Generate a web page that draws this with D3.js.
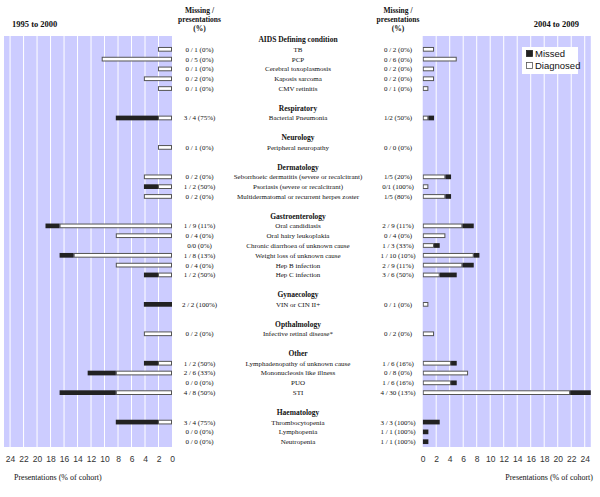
<!DOCTYPE html>
<html><head><meta charset="utf-8">
<script src="https://cdn.jsdelivr.net/npm/d3@7/dist/d3.min.js"></script>
<style>body{margin:0;background:#fff}svg{display:block}</style>
</head><body><svg id="c" width="600" height="497"></svg>
<script>
const headings = ["AIDS Defining condition","Respiratory","Neurology","Dermatology","Gastroenterology","Gynaecology","Opthalmology","Other","Haematology"];
const groupSizes = [5,1,1,3,6,1,1,4,3];
const categories = ["TB","PCP","Cerebral toxoplasmosis","Kaposis sarcoma","CMV retinitis",
 "Bacterial Pneumonia","Peripheral neuropathy",
 "Seborrhoeic dermatitis (severe or recalcitrant)","Psoriasis (severe or recalcitrant)","Multidermatomal or recurrent herpes zoster",
 "Oral candidiasis","Oral hairy leukoplakia","Chronic diarrhoea of unknown cause","Weight loss of unknown cause","Hep B infection","Hep C infection",
 "VIN or CIN II+","Infective retinal disease*",
 "Lymphadenopathy of unknown cause","Mononucleosis like illness","PUO","STI",
 "Thrombocytopenia","Lymphopenia","Neutropenia"];
// 1995 to 2000 (% of cohort)
const leftMissed = [0,0,0,0,0, 6.25, 0, 0,2.08,0, 2.08,0,0,2.08,0,2.08, 4.17, 0, 2.08,4.17,0,8.33, 6.25,0,0];
const leftDiagnosed = [2.08,10.42,2.08,4.17,2.08, 2.08, 2.08, 4.17,2.08,4.17, 16.67,8.33,0,14.58,8.33,2.08, 0, 4.17, 2.08,8.33,0,8.33, 2.08,0,0];
const leftText = ["0 / 1 (0%)","0 / 5 (0%)","0 / 1 (0%)","0 / 2 (0%)","0 / 1 (0%)","3 / 4 (75%)","0 / 1 (0%)",
 "0 / 2 (0%)","1 / 2 (50%)","0 / 2 (0%)","1 / 9 (11%)","0 / 4 (0%)","0/0 (0%)","1 / 8 (13%)","0 / 4 (0%)","1 / 2 (50%)",
 "2 / 2 (100%)","0 / 2 (0%)","1 / 2 (50%)","2 / 6 (33%)","0 / 0 (0%)","4 / 8 (50%)","3 / 4 (75%)","0 / 0 (0%)","0 / 0 (0%)"];
// 2004 to 2009 (% of cohort)
const rightMissed = [0,0,0,0,0, 0.84, 0, 0.84,0,0.84, 1.68,0,0.84,0.84,1.68,2.52, 0, 0, 0.84,0,0.84,3.36, 2.52,0.84,0.84];
const rightDiagnosed = [1.68,5.04,1.68,1.68,0.84, 0.84, 0, 3.36,0.84,3.36, 5.88,3.36,1.68,7.56,5.88,2.52, 0.84, 1.68, 4.2,6.72,4.2,21.84, 0,0,0];
const rightText = ["0 / 2 (0%)","0 / 6 (0%)","0 / 2 (0%)","0 / 2 (0%)","0 / 1 (0%)","1/2 (50%)","0 / 0 (0%)",
 "1/5 (20%)","0/1 (100%)","1/5 (80%)","2 / 9 (11%)","0 / 4 (0%)","1 / 3 (33%)","1 / 10 (10%)","2 / 9 (11%)","3 / 6 (50%)",
 "0 / 1 (0%)","0 / 2 (0%)","1 / 6 (16%)","0 / 8 (0%)","1 / 6 (16%)","4 / 30 (13%)","3 / 3 (100%)","1 / 1 (100%)","1 / 1 (100%)"];
const tickValues = [0,2,4,6,8,10,12,14,16,18,20,22,24];
const legendLabels = ["Missed","Diagnosed"];

// build slot list
const slots = [];
let k = 0;
headings.forEach((h,gi)=>{
  slots.push({type:"h",label:h,key:"h"+gi});
  for(let j=0;j<groupSizes[gi];j++){ slots.push({type:"i",idx:k,label:categories[k],key:"i"+k}); k++; }
  if(gi<headings.length-1) slots.push({type:"b",key:"b"+gi});
});

const svg = d3.select("#c");
const plotTop=36, plotBottom=447;
const y = d3.scaleBand().domain(slots.map(s=>s.key)).range([34.6,446.6]).paddingInner(0.52).paddingOuter(0.26);
const xL = d3.scaleLinear().domain([0,24.9]).range([172,4]);
const xR = d3.scaleLinear().domain([0,24.9]).range([422.7,590.8]);
const BG="#ccccff", DARK="#222", EDGE="#555";
const serif="'Liberation Serif','Times New Roman',serif";
const narrow="'Liberation Sans Narrow','Arial Narrow','Liberation Sans',sans-serif";

function panel(x, missed, diag, clipId){
  const r = x.range();
  const x0=Math.min(r[0],r[1]), x1=Math.max(r[0],r[1]);
  svg.append("clipPath").attr("id",clipId).append("rect").attr("x",x0).attr("y",plotTop).attr("width",x1-x0).attr("height",plotBottom-plotTop);
  svg.append("rect").attr("x",x0).attr("y",plotTop).attr("width",x1-x0).attr("height",plotBottom-plotTop).attr("fill",BG);
  svg.append("g").selectAll("line").data(tickValues.filter(t=>t>0)).join("line")
    .attr("x1",d=>x(d)).attr("x2",d=>x(d)).attr("y1",plotTop).attr("y2",plotBottom)
    .attr("stroke","#fff").attr("stroke-width",1);
  const g = svg.append("g").attr("clip-path",`url(#${clipId})`);
  const items = slots.filter(s=>s.type==="i");
  const bh = y.bandwidth();
  g.selectAll("rect.d").data(items.filter(s=>diag[s.idx]>0)).join("rect")
    .attr("x",s=>Math.min(x(0),x(diag[s.idx]))+0.5)
    .attr("width",s=>Math.abs(x(diag[s.idx])-x(0))-1)
    .attr("y",s=>y(s.key)+0.5).attr("height",bh-1)
    .attr("fill","#fff").attr("stroke",EDGE).attr("stroke-width",1);
  g.selectAll("rect.m").data(items.filter(s=>missed[s.idx]>0)).join("rect")
    .attr("x",s=>Math.min(x(diag[s.idx]),x(diag[s.idx]+missed[s.idx])))
    .attr("width",s=>Math.abs(x(diag[s.idx]+missed[s.idx])-x(diag[s.idx])))
    .attr("y",s=>y(s.key)).attr("height",bh)
    .attr("fill",DARK);
  const ax = svg.append("g").attr("transform",`translate(0,${plotBottom})`)
    .call(d3.axisBottom(x).tickValues(tickValues).tickSize(0).tickPadding(9));
  ax.select(".domain").remove();
  ax.selectAll("text").attr("font-family",narrow).attr("font-size",8.5).attr("fill","#333");
}
panel(xL,leftMissed,leftDiagnosed,"clipL");
panel(xR,rightMissed,rightDiagnosed,"clipR");

const cx=298, lx=199.5, rx=398;
svg.append("g").selectAll("text").data(slots.filter(s=>s.type!=="b")).join("text")
  .attr("x",cx).attr("y",s=>y(s.key)+y.bandwidth()/2).attr("dy","0.35em")
  .attr("text-anchor","middle").attr("font-family",serif)
  .attr("font-size",s=>s.type==="h"?7.5:7).attr("font-weight",s=>s.type==="h"?"bold":"normal")
  .attr("fill","#111").text(s=>s.label);
const itemSlots = slots.filter(s=>s.type==="i");
svg.append("g").selectAll("text").data(itemSlots).join("text")
  .attr("x",lx).attr("y",s=>y(s.key)+y.bandwidth()/2).attr("dy","0.35em")
  .attr("text-anchor","middle").attr("font-family",serif).attr("font-size",7).attr("fill","#111")
  .text(s=>leftText[s.idx]);
svg.append("g").selectAll("text").data(itemSlots).join("text")
  .attr("x",rx).attr("y",s=>y(s.key)+y.bandwidth()/2).attr("dy","0.35em")
  .attr("text-anchor","middle").attr("font-family",serif).attr("font-size",7).attr("fill","#111")
  .text(s=>rightText[s.idx]);

[lx,rx].forEach(hx=>{
  ["Missing /","presentations","(%)"].forEach((t,i)=>{
    svg.append("text").attr("x",hx).attr("y",10+i*9.2).attr("dy","0.35em").attr("text-anchor","middle")
      .attr("font-family",serif).attr("font-size",7.5).attr("font-weight","bold").attr("fill","#111").text(t);
  });
});
svg.append("text").attr("x",12).attr("y",24).attr("dy","0.35em").attr("font-family",serif)
  .attr("font-size",8.5).attr("font-weight","bold").attr("fill","#111").text("1995  to  2000");
svg.append("text").attr("x",579).attr("y",24).attr("dy","0.35em").attr("text-anchor","end").attr("font-family",serif)
  .attr("font-size",8.5).attr("font-weight","bold").attr("fill","#111").text("2004  to  2009");

svg.append("text").attr("x",14).attr("y",477).attr("dy","0.35em").attr("font-family",serif)
  .attr("font-size",8).attr("fill","#111").text("Presentations (% of cohort)");
svg.append("text").attr("x",593).attr("y",477).attr("dy","0.35em").attr("text-anchor","end").attr("font-family",serif)
  .attr("font-size",8).attr("fill","#111").text("Presentations (% of cohort)");

const lg = svg.append("g");
lg.append("rect").attr("x",522).attr("y",47).attr("width",56).attr("height",27).attr("fill","#fff");
legendLabels.forEach((t,i)=>{
  const yy = 53.5 + i*12;
  lg.append("rect").attr("x",526.5).attr("y",yy-3).attr("width",6).attr("height",6)
    .attr("fill",i===0?DARK:"#fff").attr("stroke",i===0?DARK:EDGE).attr("stroke-width",0.8);
  lg.append("text").attr("x",535).attr("y",yy).attr("dy","0.35em").attr("font-family",narrow)
    .attr("font-size",9.5).attr("fill","#111").text(t);
});
</script></body></html>
